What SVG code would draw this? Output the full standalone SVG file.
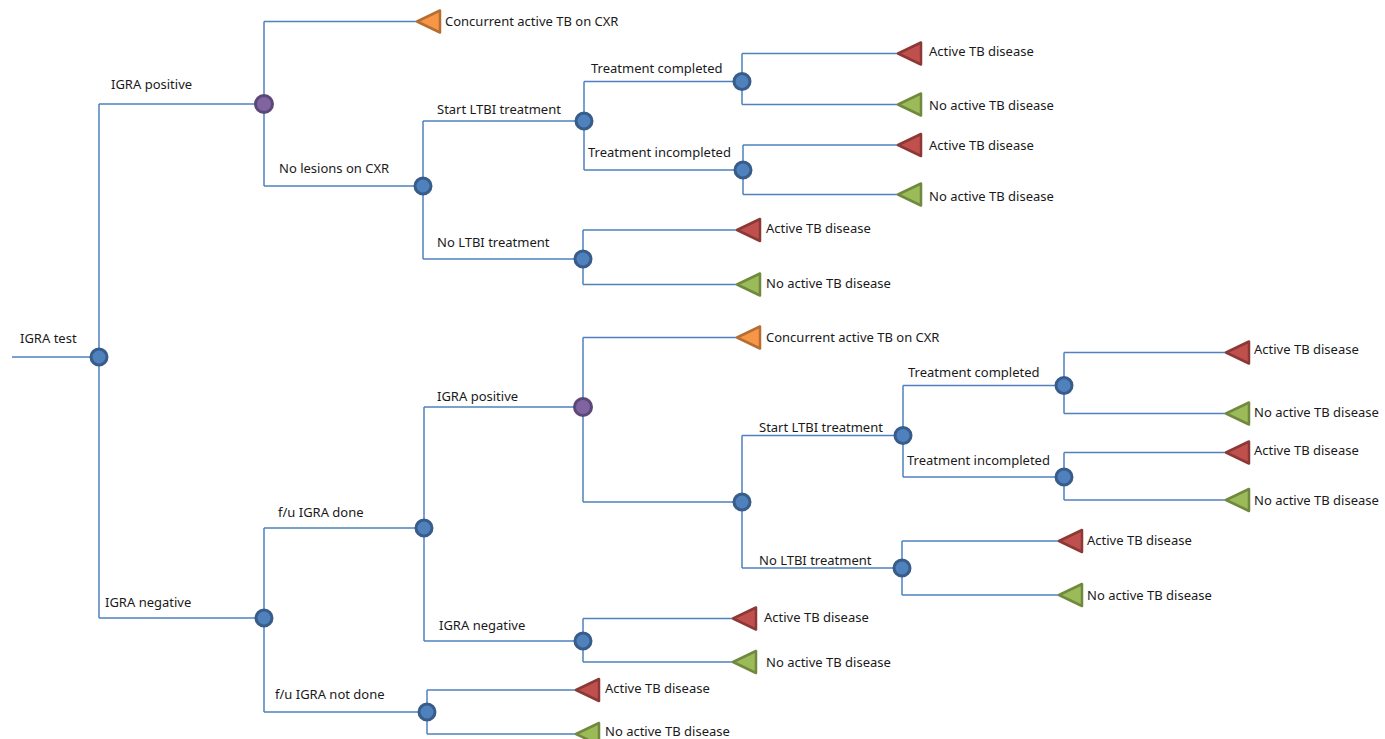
<svg xmlns="http://www.w3.org/2000/svg" width="1385" height="739" viewBox="0 0 1385 739">
<style>
.ln{fill:none;stroke:#4f81bd;stroke-width:1.5}
.c{fill:#4f81bd;stroke:#385d8a;stroke-width:3}
.p{fill:#8064a2;stroke:#5c4776;stroke-width:3}
.r{fill:#c0504d;stroke:#8c3836;stroke-width:2.5;stroke-linejoin:round}
.g{fill:#9bbb59;stroke:#71893f;stroke-width:2.5;stroke-linejoin:round}
.o{fill:#f79646;stroke:#b66d31;stroke-width:2.5;stroke-linejoin:round}
text{font-family:"Noto Sans","Noto Sans CJK KR",sans-serif;font-size:13px;fill:#1a1a1a}
</style>
<defs>
<polygon id="tri" points="0,0 23,-11 23,11"/>
</defs>
<rect width="1385" height="739" fill="#fff"/>
<g id="connectors">
<path class="ln" d="M12,357H99M99,104V618M99,104H264M99,618H264"/>
<path class="ln" d="M264,21.5V186M264,21.5H416M264,186H423"/>
<path class="ln" d="M423,121V259M423,121H584M423,259H583"/>
<path class="ln" d="M584,81.5V170M584,81.5H742M584,170H743"/>
<path class="ln" d="M742,53.5V104.5M742,53.5H897M742,104.5H897"/>
<path class="ln" d="M743,145V194.5M743,145H897M743,194.5H897"/>
<path class="ln" d="M583,230V284.5M583,230H736M583,284.5H736"/>
<path class="ln" d="M264,528V712M264,528H424M264,712H427"/>
<path class="ln" d="M424,407V641M424,407H583M424,641H583"/>
<path class="ln" d="M583,337.5V502M583,337.5H736M583,502H742"/>
<path class="ln" d="M742,435.5V568M742,435.5H903M742,568H902"/>
<path class="ln" d="M903,385.5V477M903,385.5H1064M903,477H1064"/>
<path class="ln" d="M1064,352.5V413.5M1064,352.5H1225M1064,413.5H1225"/>
<path class="ln" d="M1064,452.5V500M1064,452.5H1225M1064,500H1225"/>
<path class="ln" d="M902,541V595M902,541H1058M902,595H1058"/>
<path class="ln" d="M583,618.5V662M583,618.5H732M583,662H732"/>
<path class="ln" d="M427,690V734M427,690H575M427,734H575"/>
</g>
<g id="root"><circle class="c" cx="99" cy="357" r="8"/><text x="20" y="343">IGRA test</text></g>
<g id="igra-pos"><circle class="p" cx="264" cy="104" r="8.5"/><text x="111" y="89">IGRA positive</text></g>
<g id="concurrent1"><use href="#tri" class="o" x="417" y="21.5"/><text x="445" y="26">Concurrent active TB on CXR</text></g>
<g id="no-lesions"><circle class="c" cx="423" cy="186" r="8"/><text x="279" y="172.5">No lesions on CXR</text></g>
<g id="start-ltbi1"><circle class="c" cx="584" cy="121" r="8"/><text x="437" y="114">Start LTBI treatment</text></g>
<g id="tc1"><circle class="c" cx="742" cy="81.5" r="8"/><text x="591" y="73">Treatment completed</text></g>
<g id="tc1-a"><use href="#tri" class="r" x="898" y="53.5"/><text x="929" y="55.5">Active TB disease</text></g>
<g id="tc1-n"><use href="#tri" class="g" x="898" y="104.5"/><text x="929" y="110">No active TB disease</text></g>
<g id="ti1"><circle class="c" cx="743" cy="170" r="8"/><text x="588" y="157">Treatment incompleted</text></g>
<g id="ti1-a"><use href="#tri" class="r" x="898" y="145"/><text x="929" y="149.5">Active TB disease</text></g>
<g id="ti1-n"><use href="#tri" class="g" x="898" y="194.5"/><text x="929" y="201">No active TB disease</text></g>
<g id="no-ltbi1"><circle class="c" cx="583" cy="259" r="8"/><text x="437" y="247">No LTBI treatment</text></g>
<g id="nl1-a"><use href="#tri" class="r" x="737" y="230"/><text x="766" y="233">Active TB disease</text></g>
<g id="nl1-n"><use href="#tri" class="g" x="737" y="284.5"/><text x="766" y="288">No active TB disease</text></g>
<g id="igra-neg"><circle class="c" cx="264" cy="618" r="8"/><text x="105" y="607">IGRA negative</text></g>
<g id="fu-done"><circle class="c" cx="424" cy="528" r="8"/><text x="278" y="517">f/u IGRA done</text></g>
<g id="igra-pos2"><circle class="p" cx="583" cy="407" r="8.5"/><text x="437" y="401">IGRA positive</text></g>
<g id="concurrent2"><use href="#tri" class="o" x="737" y="337.5"/><text x="766" y="342">Concurrent active TB on CXR</text></g>
<g id="no-lesions2"><circle class="c" cx="742" cy="502" r="8"/></g>
<g id="start-ltbi2"><circle class="c" cx="903" cy="435.5" r="8"/><text x="759" y="432">Start LTBI treatment</text></g>
<g id="tc2"><circle class="c" cx="1064" cy="385.5" r="8"/><text x="908" y="377">Treatment completed</text></g>
<g id="tc2-a"><use href="#tri" class="r" x="1226" y="352.5"/><text x="1254" y="354">Active TB disease</text></g>
<g id="tc2-n"><use href="#tri" class="g" x="1226" y="413.5"/><text x="1254" y="417">No active TB disease</text></g>
<g id="ti2"><circle class="c" cx="1064" cy="477" r="8"/><text x="907" y="465">Treatment incompleted</text></g>
<g id="ti2-a"><use href="#tri" class="r" x="1226" y="452.5"/><text x="1254" y="455">Active TB disease</text></g>
<g id="ti2-n"><use href="#tri" class="g" x="1226" y="500"/><text x="1254" y="505">No active TB disease</text></g>
<g id="no-ltbi2"><circle class="c" cx="902" cy="568" r="8"/><text x="759" y="565">No LTBI treatment</text></g>
<g id="nl2-a"><use href="#tri" class="r" x="1059" y="541"/><text x="1087" y="545">Active TB disease</text></g>
<g id="nl2-n"><use href="#tri" class="g" x="1059" y="595"/><text x="1087" y="600">No active TB disease</text></g>
<g id="igra-neg2"><circle class="c" cx="583" cy="641" r="8"/><text x="439" y="629.5">IGRA negative</text></g>
<g id="in2-a"><use href="#tri" class="r" x="733" y="618.5"/><text x="764" y="622">Active TB disease</text></g>
<g id="in2-n"><use href="#tri" class="g" x="733" y="662"/><text x="766" y="667">No active TB disease</text></g>
<g id="fu-not-done"><circle class="c" cx="427" cy="712" r="8"/><text x="275" y="699">f/u IGRA not done</text></g>
<g id="fn-a"><use href="#tri" class="r" x="576" y="690"/><text x="605" y="693">Active TB disease</text></g>
<g id="fn-n"><use href="#tri" class="g" x="576" y="734"/><text x="605" y="736">No active TB disease</text></g>
</svg>
